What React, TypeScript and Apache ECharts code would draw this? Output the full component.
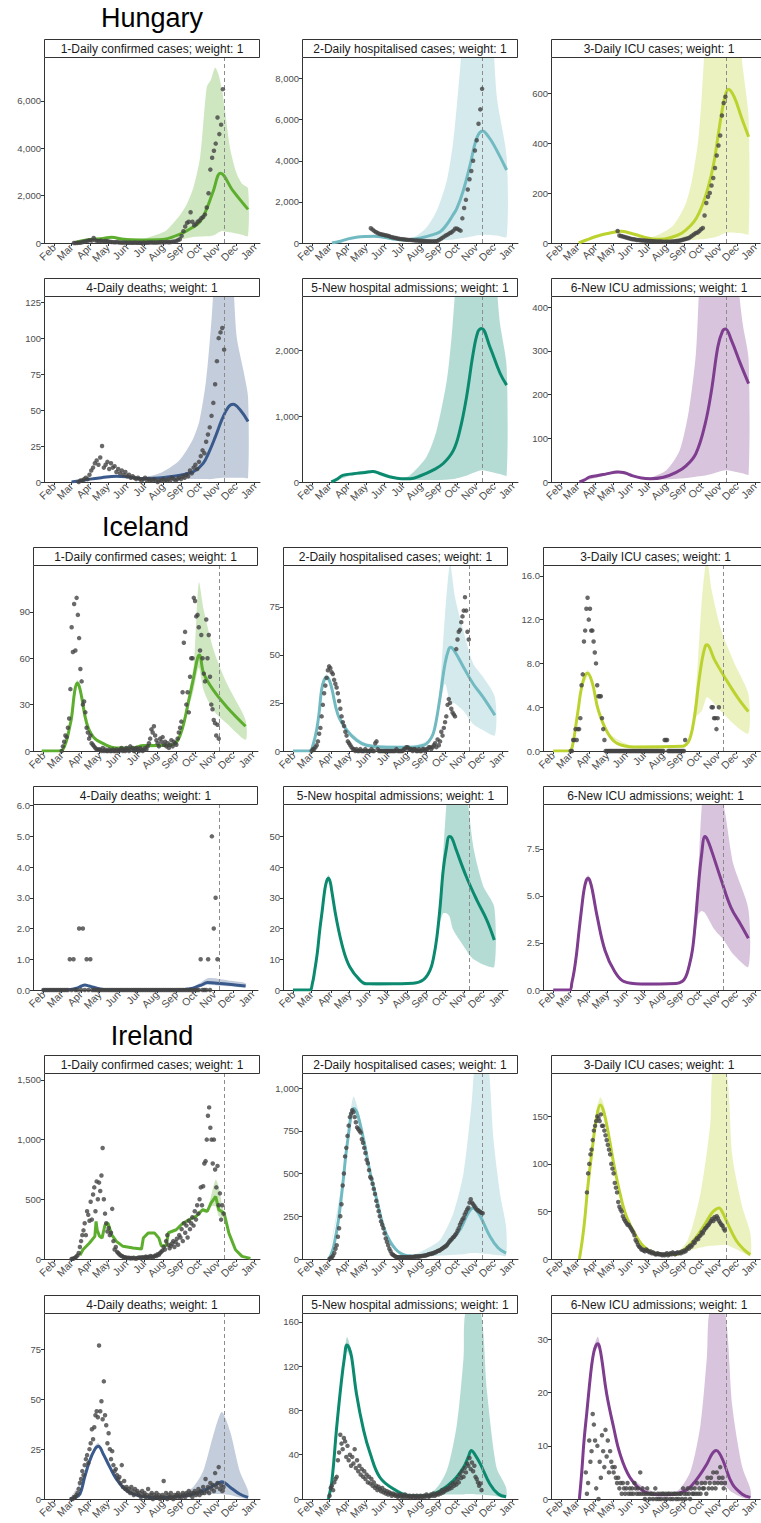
import React, { useEffect, useRef } from "react";
import * as echarts from "echarts";

// ---------- shared axis data ----------
const MONTH_TICKS = [31, 60, 91, 121, 152, 182, 213, 244, 274, 305, 335, 366];
const MONTH_LABELS = ["Feb", "Mar", "Apr", "May", "Jun", "Jul", "Aug", "Sep", "Oct", "Nov", "Dec", "Jan"];
const X_RANGE = [14, 375]; // day of year 2020 (0 = Jan 1)

const PANEL_TITLES = [
  "1-Daily confirmed cases; weight: 1",
  "2-Daily hospitalised cases; weight: 1",
  "3-Daily ICU cases; weight: 1",
  "4-Daily deaths; weight: 1",
  "5-New hospital admissions; weight: 1",
  "6-New ICU admissions; weight: 1",
];
const LINE_COLORS = ["#5DAE2E", "#72BAC2", "#BCD32F", "#3A5A8C", "#0B8A6F", "#7E3D8E"];
const BAND_COLORS = [
  "rgba(93,174,46,0.3)",
  "rgba(114,186,194,0.3)",
  "rgba(188,211,47,0.3)",
  "rgba(58,90,140,0.3)",
  "rgba(11,138,111,0.3)",
  "rgba(126,61,142,0.3)",
];

// ---------- Hungary ----------
const HU_CUTOFF = 316;
const HU_Y_MAX = [7816, 9000, 740, 128.6, 2807, 423];
const HU_Y_TICKS = [[0, 2000, 4000, 6000], [0, 2000, 4000, 6000, 8000], [0, 200, 400, 600], [0, 25, 50, 75, 100, 125], [0, 1000, 2000], [0, 100, 200, 300, 400]];

const HU_CASES_LINE = [[64, 0], [74, 80], [91, 150], [110, 180], [127, 240], [145, 160], [175, 130], [213, 150], [236, 320], [250, 480], [262, 650], [275, 900], [286, 1450], [297, 2200], [309, 2950], [330, 2200], [355, 1420]];
const HU_CASES_BAND = [[64, 0, 0], [91, 120, 180], [127, 200, 290], [175, 110, 160], [208, 100, 400], [219, 110, 535], [241, 150, 1170], [253, 200, 1660], [264, 250, 2365], [275, 270, 3630], [286, 280, 6590], [293, 300, 6900], [300, 350, 7400], [306, 450, 7100], [312, 520, 6400], [317, 480, 5500], [325, 450, 4000], [335, 400, 3000], [345, 350, 2500], [355, 300, 2300]];
const HU_CASES_OBS = { start: 64, step: 3, values: [0, 2, 5, 10, 20, 40, 60, 80, 100, 120, 100, 210, 110, 90, 80, 100, 60, 80, 90, 70, 50, 40, 35, 30, 40, 25, 20, 15, 20, 15, 10, 15, 10, 12, 15, 10, 8, 10, 12, 15, 12, 15, 20, 25, 20, 18, 22, 25, 30, 28, 30, 35, 40, 30, 45, 50, 60, 80, 120, 160, 300, 500, 700, 850, 900, 1300, 900, 750, 800, 900, 950, 1050, 1100, 1200, 1500, 2100, 3100, 3600, 3900, 4200, 5300, 4600, 5000, 6500] };

const HU_HOSP_LINE = [[64, 0], [80, 100], [91, 200], [105, 280], [121, 320], [135, 330], [150, 280], [166, 200], [184, 150], [200, 180], [213, 250], [230, 380], [245, 550], [256, 900], [265, 1300], [273, 1700], [283, 2500], [295, 3800], [306, 5100], [316, 5450], [325, 5200], [335, 4750], [356, 3550]];
const HU_HOSP_BAND = [[64, 0, 0], [91, 180, 220], [121, 290, 350], [166, 170, 230], [184, 120, 190], [205, 110, 340], [222, 110, 750], [239, 120, 1560], [256, 140, 3030], [267, 170, 4990], [278, 220, 8400], [285, 250, 11000], [300, 330, 16000], [316, 400, 16000], [333, 380, 10000], [340, 360, 7000], [356, 300, 4200]];
const HU_HOSP_OBS = { start: 129, step: 3, values: [720, 650, 580, 520, 480, 440, 420, 400, 380, 360, 340, 300, 280, 260, 240, 220, 200, 190, 180, 170, 160, 150, 150, 140, 130, 120, 120, 110, 110, 100, 100, 90, 90, 80, 80, 80, 90, 100, 150, 200, 260, 320, 380, 420, 480, 520, 600, 700, 700, 650, 600, 1200, 1700, 2100, 2600, 3100, 3500, 4000, 4500, 5000, 5800, 6500, 7500] };

const HU_ICU_LINE = [[62, 0], [75, 12], [90, 25], [105, 35], [120, 42], [135, 47], [150, 40], [165, 30], [180, 20], [195, 15], [210, 16], [225, 25], [240, 40], [255, 70], [265, 100], [275, 150], [285, 220], [295, 320], [303, 440], [310, 540], [316, 600], [320, 615], [330, 585], [343, 500], [355, 425]];
const HU_ICU_BAND = [[62, 0, 0], [90, 22, 28], [135, 42, 52], [165, 26, 34], [190, 12, 25], [224, 10, 68], [246, 10, 155], [257, 12, 249], [268, 14, 410], [274, 15, 584], [280, 16, 800], [300, 25, 1200], [316, 41, 1200], [335, 40, 900], [345, 38, 700], [355, 35, 500]];
const HU_ICU_OBS = { start: 129, step: 3, values: [48, 30, 28, 26, 24, 22, 20, 18, 16, 15, 14, 12, 12, 11, 10, 10, 9, 9, 8, 8, 7, 7, 6, 6, 6, 6, 5, 5, 5, 5, 5, 6, 6, 7, 8, 9, 10, 12, 14, 16, 18, 20, 25, 30, 35, 40, 42, 48, 55, 60, 110, 160, 185, 200, 230, 260, 300, 350, 390, 430, 510, 560, 585] };

const HU_DEATHS_LINE = [[60, 0], [75, 0.8], [91, 2], [110, 3], [135, 4], [155, 3.5], [175, 2.5], [205, 2.8], [230, 4], [250, 5.5], [265, 7.5], [280, 13], [290, 21], [300, 31], [312, 44], [322, 52], [330, 54], [342, 50], [355, 42]];
const HU_DEATHS_BAND = [[60, 0, 0], [91, 1.5, 2.5], [135, 3.3, 4.7], [175, 2, 3], [207, 2, 6], [240, 2, 15], [262, 2, 29], [274, 2, 43], [285, 2, 71], [294, 2, 113], [300, 2.5, 150], [316, 3, 200], [330, 3, 140], [336, 3, 101], [347, 3, 78], [355, 3, 59]];
const HU_DEATHS_OBS = { start: 72, step: 3, values: [0, 1, 1, 2, 3, 2, 5, 8, 10, 13, 15, 12, 17, 25, 10, 12, 14, 9, 13, 10, 11, 7, 9, 6, 8, 5, 7, 4, 5, 3, 4, 3, 2, 3, 2, 1, 2, 3, 1, 2, 1, 1, 2, 1, 0, 1, 1, 2, 1, 1, 2, 1, 3, 2, 1, 2, 3, 2, 4, 3, 5, 4, 8, 6, 10, 12, 9, 14, 18, 22, 20, 28, 33, 38, 46, 55, 68, 84, 100, 104, 107, 92] };

const HU_ADM_LINE = [[63, 0], [72, 40], [82, 100], [100, 125], [120, 145], [132, 160], [145, 125], [160, 80], [180, 50], [195, 50], [212, 95], [233, 180], [250, 280], [267, 480], [278, 790], [289, 1290], [300, 1950], [308, 2280], [314, 2330], [328, 2050], [345, 1650], [356, 1470]];
const HU_ADM_BAND = [[63, 0, 0], [100, 110, 140], [132, 145, 175], [180, 40, 60], [194, 35, 100], [222, 30, 380], [239, 30, 785], [256, 35, 1544], [264, 40, 2200], [270, 50, 2900], [290, 100, 5000], [314, 177, 5000], [330, 150, 4000], [340, 130, 2900], [345, 120, 2400], [356, 100, 1750]];

const HU_ICUADM_LINE = [[63, 0], [72, 5], [80, 11], [95, 15], [108, 18], [130, 23], [141, 21], [155, 14], [170, 9], [185, 7.6], [208, 11], [230, 22], [247, 37], [264, 65], [280, 133], [291, 210], [302, 310], [310, 345], [315, 350], [325, 325], [341, 270], [355, 225]];
const HU_ICUADM_BAND = [[63, 0, 0], [108, 15, 20], [130, 20, 26], [170, 7, 11], [185, 6, 10], [213, 6, 27], [236, 8, 72], [252, 10, 164], [264, 12, 293], [270, 13, 450], [290, 18, 800], [315, 27, 800], [338, 22, 440], [345, 20, 360], [355, 17, 280]];

// ---------- Iceland ----------
const IS_CUTOFF = 313;
const IS_Y_MAX = [119.6, 96.2, 16.9, 6.02, 60.3, 9.84];
const IS_Y_TICKS = [[0, 30, 60, 90], [0, 25, 50, 75], [0, 4, 8, 12, 16], [0, 1, 2, 3, 4, 5, 6], [0, 10, 20, 30, 40, 50], [0, 2.5, 5, 7.5]];

const IS_CASES_LINE = [[28, 0], [57, 0], [62, 1], [68, 7], [72, 14], [76, 22], [81, 39], [85, 44], [88, 42], [92, 35], [100, 18], [111, 9], [127, 4.7], [148, 2], [175, 2], [191, 3.5], [229, 3.5], [240, 4.5], [245, 6], [250, 10], [256, 18], [264, 33], [272, 48], [278, 60], [281, 62], [288, 50], [304, 39], [325, 28.5], [355, 16]];
const IS_CASES_BAND = [[28, 0, 0], [57, 0, 0], [68, 6, 8], [76, 20, 24], [85, 42, 46], [92, 33, 37], [111, 8, 10], [148, 1.5, 2.5], [229, 3, 4], [245, 5, 7], [256, 16, 20], [264, 28, 38], [272, 40, 56], [280, 54, 109], [288, 39, 91], [304, 26, 65], [325, 17.7, 43.6], [355, 7.3, 20]];
const IS_CASES_OBS = { start: 60, step: 2, values: [0, 3, 6, 10, 9, 15, 21, 40, 80, 64, 95, 65, 99, 88, 73, 53, 45, 30, 32, 25, 15, 12, 8, 10, 5, 4, 3, 2, 1, 1, 1, 1, 0, 2, 0, 1, 0, 0, 1, 0, 0, 1, 0, 0, 1, 0, 0, 1, 2, 0, 1, 0, 2, 1, 0, 3, 1, 2, 0, 1, 2, 1, 0, 2, 1, 0, 1, 2, 1, 3, 5, 8, 14, 12, 16, 10, 7, 5, 3, 8, 6, 9, 4, 6, 3, 5, 2, 4, 7, 3, 6, 5, 4, 8, 12, 15, 19, 38, 70, 77, 30, 38, 25, 48, 60, 60, 99, 97, 87, 88, 80, 65, 75, 60, 50, 45, 85, 60, 75, 48, 30, 27, 20, 18, 10, 17, 8] };

const IS_HOSP_LINE = [[30, 0], [57, 0], [62, 3], [68, 11], [72, 20], [76, 32], [80, 37], [84, 38.5], [88, 37], [92, 33], [102, 19], [116, 11], [132, 5.6], [148, 3], [180, 2], [223, 2], [240, 3], [248, 5], [255, 9], [260, 16], [266, 28], [274, 45.5], [280, 53], [283, 54], [290, 51.5], [303, 44], [319, 35], [335, 28], [354, 18.6]];
const IS_HOSP_BAND = [[30, 0, 0], [57, 0, 0], [68, 10, 12], [76, 30, 34], [84, 37, 40], [92, 31, 35], [102, 18, 20], [116, 10, 12], [148, 2, 4], [223, 1, 3], [248, 4, 6], [260, 14, 18], [266, 24, 34], [274, 35, 71], [282, 26, 97], [290, 24.7, 80], [303, 21, 63], [319, 14, 45.5], [335, 10.8, 38.5], [354, 8.2, 28]];
const IS_HOSP_OBS = { start: 60, step: 2, values: [0, 1, 1, 2, 3, 5, 9, 12, 18, 24, 30, 34, 38, 42, 44, 43, 41, 40, 37, 35, 33, 30, 26, 22, 18, 15, 13, 10, 8, 5, 4, 3, 2, 1, 1, 0, 1, 0, 0, 1, 0, 0, 0, 1, 0, 0, 0, 0, 1, 0, 0, 4, 5, 1, 0, 0, 0, 0, 0, 0, 0, 0, 0, 0, 0, 0, 0, 0, 1, 0, 0, 0, 0, 0, 1, 1, 2, 2, 1, 1, 1, 0, 1, 1, 0, 0, 1, 0, 0, 1, 1, 0, 1, 1, 2, 2, 1, 2, 3, 4, 2, 6, 3, 5, 10, 8, 12, 15, 18, 24, 27, 25, 22, 20, 19, 18, 53, 58, 62, 63, 67, 70, 73, 80, 73, 62, 58] };

const IS_ICU_LINE = [[31, 0], [58, 0], [63, 0.5], [69, 2.5], [73, 4], [77, 5.5], [83, 6.8], [88, 7.1], [96, 6.2], [106, 3.7], [122, 1.6], [138, 0.67], [165, 0.37], [246, 0.43], [252, 0.6], [257, 1], [262, 2], [267, 3.7], [272, 6], [278, 8.3], [283, 9.5], [286, 9.7], [299, 8.3], [315, 6.8], [337, 4.9], [355, 3.6]];
const IS_ICU_BAND = [[31, 0, 0], [58, 0, 0], [69, 2.2, 2.8], [77, 5.2, 5.8], [88, 6.8, 7.4], [96, 5.9, 6.5], [106, 3.5, 3.9], [122, 1.5, 1.7], [165, 0.3, 0.45], [246, 0.35, 0.5], [257, 0.8, 1.2], [267, 3, 4.9], [278, 3.7, 14], [286, 4.9, 17.5], [294, 4.6, 14.7], [310, 3.6, 11], [332, 2.4, 8], [355, 1.6, 5.2]];
const IS_ICU_OBS = { start: 60, step: 2, values: [0, 0, 1, 1, 2, 1, 2, 2, 3, 6, 7, 10, 11, 13, 14, 12, 13, 11, 11, 10, 9, 8, 6, 5, 5, 5, 3, 2, 1, 0, 0, 0, 0, 0, 0, 0, 0, 0, 0, 0, 0, 0, 0, 0, 0, 0, 0, 0, 0, 0, 0, 0, 0, 0, 0, 0, 0, 0, 0, 0, 0, 0, 0, 0, 0, 0, 0, 0, 0, 0, 0, 0, 0, 0, 0, 0, 0, 0, 1, 1, 1, 0, 0, 0, 0, 0, 0, 0, 0, 0, 0, 0, 0, 0, 0, 1, null, null, null, null, null, null, null, null, null, null, null, null, null, null, null, null, null, null, null, null, null, 4, 4, 3, 3, 2, 3, 4] };

const IS_DEATHS_LINE = [[28, 0], [68, 0], [76, 0.02], [84, 0.06], [92, 0.13], [97, 0.16], [104, 0.13], [111, 0.09], [127, 0.02], [140, 0], [246, 0], [258, 0.02], [268, 0.05], [276, 0.1], [284, 0.16], [294, 0.24], [310, 0.22], [332, 0.18], [355, 0.13]];
const IS_DEATHS_BAND = [[28, 0, 0], [68, 0, 0], [84, 0.04, 0.08], [97, 0.13, 0.19], [111, 0.07, 0.11], [127, 0.01, 0.03], [140, 0, 0], [246, 0, 0], [268, 0.03, 0.08], [284, 0.12, 0.25], [294, 0.17, 0.38], [310, 0.15, 0.37], [332, 0.12, 0.3], [355, 0.08, 0.22]];
const IS_DEATHS_OBS = { start: 31, step: 3, values: [0, 0, 0, 0, 0, 0, 0, 0, 0, 0, 0, 0, 0, 0, 1, 0, 1, 0, 0, 2, 0, 2, 0, 1, 0, 1, 0, 0, 0, 0, 0, 0, 0, 0, 0, 0, 0, 0, 0, 0, 0, 0, 0, 0, 0, 0, 0, 0, 0, 0, 0, 0, 0, 0, 0, 0, 0, 0, 0, 0, 0, 0, 0, 0, 0, 0, 0, 0, 0, 0, 0, 0, 0, 0, 0, 0, 0, 0, 0, 0, 0, 0, 0, 0, 1, 0, 0, 0, 1, 0, 5, 2, 3, 1] };

const IS_ADM_LINE = [[30, 0], [57, 0], [61, 2], [65, 6.5], [69, 12], [73, 19.6], [77, 26], [81, 32.6], [84, 35.5], [87, 36.4], [90, 35], [92, 32.6], [100, 22.8], [111, 13], [121, 7.6], [137, 3.3], [148, 2], [180, 2], [223, 2.2], [239, 3.3], [250, 6.5], [256, 11], [261, 17.4], [266, 27], [271, 39], [276, 46], [281, 50], [285, 49.5], [292, 45.6], [308, 37], [325, 29.3], [341, 22.8], [353, 16.3]];
const IS_ADM_BAND = [[30, 0, 0], [57, 0, 0], [65, 6, 7], [73, 19, 20.5], [81, 32, 34], [87, 35.5, 37.5], [92, 32, 33.5], [100, 22.3, 23.3], [121, 7.3, 8], [148, 1.8, 2.2], [223, 2, 2.5], [239, 3, 3.8], [250, 5.8, 7.2], [261, 15.5, 19], [266, 22, 30], [271, 25, 44.6], [276, 25, 60], [281, 24, 70], [287, 19.6, 75], [308, 13, 70], [311, 12, 61], [320, 10, 46], [335, 8.3, 34], [353, 7.6, 27]];

const IS_ICUADM_LINE = [[31, 0], [58, 0], [62, 0.4], [66, 1.06], [70, 2], [74, 3.2], [78, 4.3], [82, 5.3], [86, 5.85], [89, 5.94], [92, 5.8], [96, 5.3], [104, 3.9], [117, 2.1], [133, 0.98], [149, 0.44], [176, 0.32], [235, 0.35], [245, 0.45], [251, 0.7], [256, 1.2], [262, 2.1], [267, 3.6], [272, 5.5], [277, 7.1], [283, 8.16], [287, 8], [294, 7.4], [310, 5.85], [326, 4.4], [342, 3.5], [355, 2.75]];
const IS_ICUADM_BAND = [[31, 0, 0], [58, 0, 0], [66, 1, 1.1], [74, 3.1, 3.3], [82, 5.2, 5.5], [89, 5.8, 6.1], [96, 5.2, 5.4], [104, 3.8, 4], [117, 2, 2.2], [149, 0.4, 0.5], [235, 0.3, 0.4], [251, 0.6, 0.8], [262, 1.9, 2.5], [272, 4, 6.5], [277, 4.2, 9.5], [283, 4.1, 11], [299, 3.2, 11], [314, 2.66, 9.8], [330, 1.9, 6.7], [355, 1.24, 4.3]];

// ---------- Ireland ----------
const IE_CUTOFF = 316;
const IE_Y_MAX = [1550, 1082, 194.5, 92.8, 167, 34.8];
const IE_Y_TICKS = [[0, 500, 1000, 1500], [0, 250, 500, 750, 1000], [0, 50, 100, 150], [0, 25, 50, 75], [0, 40, 80, 120, 160], [0, 10, 20, 30]];

const IE_CASES_LINE = [[74, 30], [79, 78], [90, 134], [99, 190], [101, 315], [103, 240], [107, 190], [111, 175], [116, 287], [121, 300], [127, 205], [135, 148], [146, 106], [163, 92], [177, 84], [180, 176], [188, 217], [199, 217], [206, 175], [210, 110], [218, 110], [222, 220], [235, 245], [246, 300], [257, 330], [268, 357], [279, 413], [287, 400], [293, 468], [301, 524], [306, 413], [315, 385], [323, 217], [334, 78], [345, 22], [359, 5]];
const IE_CASES_BAND = [[279, 400, 430], [287, 385, 415], [293, 440, 524], [301, 440, 664], [306, 360, 608], [312, 350, 440], [315, 360, 400], [323, 210, 225]];
const IE_CASES_OBS = { start: 60, step: 2, values: [0, 2, 5, 10, 20, 30, 50, 100, 150, 200, 240, 300, 200, 400, 370, 320, 480, 330, 540, 600, 400, 650, 500, 640, 570, 700, 930, 500, 380, 300, 230, 260, 200, 220, 420, 150, 80, 100, 60, 50, 40, 30, 25, 20, 15, 12, 10, 8, 10, 5, 8, 6, 10, 5, 3, 8, 10, 12, 8, 15, 10, 12, 20, 15, 18, 10, 25, 20, 15, 22, 30, 25, 40, 35, 50, 60, 70, 100, 80, 150, 200, 120, 90, 110, 130, 150, 100, 140, 170, 120, 200, 180, 250, 150, 300, 220, 280, 180, 320, 250, 300, 350, 280, 400, 330, 450, 380, 500, 600, 450, 610, 800, 820, 1000, 1200, 1270, 1100, 1000, 800, 1000, 750, 600, 780, 450, 550, 330, 450, 380] };

const IE_HOSP_LINE = [[58, 0], [62, 20], [67, 74], [75, 230], [83, 464], [87, 600], [92, 737], [96, 840], [100, 880], [104, 870], [108, 834], [117, 698], [128, 503], [139, 347], [150, 191], [161, 103], [178, 35], [200, 16], [222, 25], [245, 55], [262, 103], [278, 171], [289, 250], [296, 290], [300, 298], [305, 285], [312, 250], [328, 133], [342, 64], [355, 35]];
const IE_HOSP_BAND = [[58, 0, 0], [83, 440, 490], [92, 700, 780], [100, 850, 950], [108, 800, 870], [128, 480, 530], [150, 175, 205], [178, 30, 40], [200, 12, 25], [222, 15, 60], [245, 20, 113], [267, 25, 269], [284, 28, 503], [297, 35, 893], [306, 35, 1200], [323, 30, 1200], [334, 25, 700], [345, 22, 380], [355, 19, 191]];
const IE_HOSP_OBS = { start: 60, step: 2, values: [0, 5, 10, 20, 35, 60, 80, 130, 180, 250, 320, 430, 500, 600, 650, 720, 780, 830, 850, 870, 860, 830, 800, 770, 760, 750, 740, 700, 680, 650, 620, 580, 560, 520, 480, 470, 440, 410, 380, 340, 310, 280, 250, 220, 200, 180, 150, 120, 100, 80, 60, 45, 30, 25, 20, 15, 12, 10, 10, 10, 10, 10, 10, 10, 10, 10, 10, 12, 12, 12, 12, 14, 14, 15, 15, 15, 16, 18, 18, 20, 20, 22, 25, 28, 30, 30, 32, 35, 38, 40, 45, 48, 50, 55, 60, 65, 70, 75, 80, 90, 100, 110, 115, 125, 130, 140, 150, 165, 180, 200, 215, 230, 240, 260, 275, 290, 300, 330, 350, 330, 320, 310, 300, 290, 285, 280, 275, 270, 268] };

const IE_ICU_LINE = [[63, 0], [68, 20], [72, 40], [77, 73], [85, 115], [93, 150], [99, 162], [105, 155], [113, 132], [122, 101], [133, 69], [144, 45], [161, 24], [177, 11.6], [200, 4.6], [227, 4.6], [244, 9.8], [261, 20], [277, 34], [291, 48], [298, 52], [304, 53.6], [310, 49], [316, 41], [333, 20], [347, 9.8], [358, 4.6]];
const IE_ICU_BAND = [[63, 0, 0], [77, 70, 78], [93, 145, 158], [99, 155, 170], [105, 148, 163], [122, 96, 106], [144, 42, 48], [177, 10, 13], [227, 3, 6], [250, 8, 20], [272, 12, 69], [289, 14, 143], [294, 14, 200], [316, 15, 200], [327, 12, 108], [344, 7, 55], [358, 3, 27]];
const IE_ICU_OBS = { start: 76, step: 2, values: [70, 90, 100, 110, 115, 125, 135, 140, 145, 150, 148, 145, 152, 140, 140, 135, 130, 125, 120, 115, 110, 100, 95, 90, 80, 75, 70, 60, 55, 52, 50, 45, 42, 40, 38, 36, 36, 34, 32, 30, 28, 25, 20, 18, 15, 13, 12, 10, 10, 9, 8, 10, 9, 8, 7, 8, 6, 7, 6, 5, 5, 6, 5, 5, 5, 4, 5, 4, 5, 6, 4, 5, 6, 5, 7, 6, 5, 6, 7, 6, 7, 6, 8, 7, 9, 8, 10, 12, 11, 14, 13, 15, 18, 17, 20, 22, 21, 24, 25, 28, 27, 30, 32, 33, 35, 36, 38, 40, 42, 40, 44, 42, 45, 43, 40, 38, 36, 35, 32, 30] };

const IE_DEATHS_LINE = [[57, 0], [65, 0.5], [74, 2.5], [82, 11], [90, 19], [99, 25], [105, 26.5], [113, 22.6], [124, 16], [135, 10], [149, 5], [163, 2.5], [191, 0.8], [219, 0.8], [241, 1.2], [263, 2.5], [286, 5], [302, 7.5], [311, 8.7], [325, 5.9], [341, 2.5], [355, 0.8]];
const IE_DEATHS_BAND = [[57, 0, 0], [82, 10, 12], [99, 24, 26.5], [105, 25.5, 28], [113, 21.5, 23.5], [135, 9.3, 10.7], [163, 2, 3], [219, 0.5, 1.2], [241, 0.8, 2], [263, 1, 5.9], [280, 2, 14], [296, 2.5, 31], [311, 2.5, 43.6], [325, 2, 34], [341, 0.8, 14], [355, 0.2, 4.2]];
const IE_DEATHS_OBS = { start: 60, step: 2, values: [0, 0, 1, 1, 2, 3, 5, 8, 10, 14, 12, 17, 20, 22, 18, 25, 28, 35, 30, 36, 42, 44, 41, 77, 44, 49, 40, 59, 42, 37, 28, 33, 25, 20, 24, 17, 14, 15, 12, 10, 11, 8, 17, 6, 9, 5, 6, 4, 5, 3, 6, 4, 2, 5, 3, 4, 2, 3, 1, 4, 2, 3, 1, 2, 5, 1, 2, 3, 0, 2, 1, 3, 1, 2, 0, 1, 2, 9, 1, 3, 0, 2, 1, 3, 1, 0, 2, 1, 2, 3, 1, 2, 1, 3, 2, 1, 3, 2, 4, 2, 3, 1, 3, 4, 2, 3, 5, 2, 4, 3, 6, 3, 10, 4, 6, 3, 8, 5, 7, 4, 13, 6, 8, 16, 5, 7, 4, 6] };

const IE_ADM_LINE = [[58, 0], [64, 16.6], [72, 65], [80, 107], [85, 128], [89, 139], [93, 136], [97, 128], [105, 95], [117, 62], [128, 41], [144, 19.6], [167, 9], [195, 3], [223, 3], [245, 7.5], [267, 16.6], [284, 28.7], [292, 38], [297, 43.8], [302, 41], [312, 31.7], [328, 13.6], [342, 4.5], [355, 2]];
const IE_ADM_BAND = [[58, 0, 0], [80, 104, 110], [89, 133, 146], [97, 124, 132], [117, 60, 64], [144, 18.5, 21], [195, 2.5, 3.5], [234, 3, 7.5], [256, 4, 25.7], [273, 4, 68], [284, 4, 128], [288, 4.5, 170], [312, 4, 170], [323, 3.5, 98], [339, 2.5, 28.7], [355, 1, 10.6]];
const IE_ADM_OBS = { start: 60, step: 2, values: [3, 10, 12, 8, 15, 18, 20, 35, 42, 58, 50, 45, 55, 52, 38, 48, 35, 40, 30, 38, 32, 45, 28, 35, 25, 30, 22, 27, 20, 25, 18, 22, 15, 20, 14, 18, 12, 15, 10, 12, 8, 11, 9, 7, 10, 6, 8, 5, 7, 4, 6, 5, 3, 5, 4, 3, 4, 2, 3, 4, 2, 3, 2, 4, 2, 3, 2, 3, 1, 2, 3, 2, 2, 3, 1, 2, 3, 2, 2, 3, 2, 4, 3, 2, 3, 4, 3, 5, 3, 4, 5, 4, 6, 5, 8, 6, 7, 9, 8, 10, 9, 12, 10, 14, 12, 15, 13, 18, 15, 22, 19, 25, 20, 28, 24, 32, 30, 37, 27, 33, 25, 30, 20, 18, 15, 12, 14, 8] };

const IE_ICUADM_LINE = [[63, 0], [67, 5], [71, 11], [76, 16.5], [80, 21], [84, 25], [88, 27.7], [92, 29], [95, 29.2], [98, 28.5], [102, 26], [110, 19.8], [122, 13.5], [133, 8.5], [150, 4.1], [172, 1.6], [200, 0.8], [227, 0.9], [250, 1.9], [266, 3.8], [283, 6.6], [292, 8.5], [299, 9.1], [304, 8.7], [311, 7.2], [327, 2.8], [344, 0.9], [358, 0.3]];
const IE_ICUADM_BAND = [[63, 0, 0], [80, 20.5, 21.5], [88, 27.2, 28.5], [95, 28.5, 30.5], [102, 25.5, 26.7], [122, 13, 14], [150, 3.8, 4.4], [200, 0.7, 0.9], [233, 0.8, 1.6], [255, 1.5, 5.3], [272, 2.5, 14], [283, 3, 26.7], [289, 3.2, 36], [313, 2.5, 36], [327, 1.2, 17.3], [344, 0.3, 6], [358, 0.1, 1.9]];
const IE_ICUADM_OBS = { start: 74, step: 2, values: [5, 1, 3, 11, 7, 9, 16, 14, 11, 2, 10, 0, 7, 4, 12, 9, 6, 13, 8, 11, 5, 9, 7, 6, 5, 6, 4, 3, 4, 2, 3, 1, 3, 2, 1, 2, 3, 1, 2, 1, 2, 1, 3, 2, 1, 2, 1, 5, 1, 2, 1, 0, 1, 2, 1, 0, 1, 1, 0, 1, 2, 0, 1, 0, 1, 0, 1, 1, 0, 1, 0, 1, 1, 0, 1, 0, 1, 1, 0, 1, 0, 1, 1, 0, 2, 1, 0, 1, 2, 1, 0, 2, 1, 1, 2, 1, 3, 1, 2, 1, 3, 2, 2, 3, 1, 4, 2, 3, 4, 2, 5, 3, 2, 5, 3, 4, 6, 3, 4, 2, 3] };

// ---------- layout (pixels) ----------
const LAYOUTS = {
  wide: { lefts: [44, 302, 551], width: 216 },
  narrow: { lefts: [33, 283, 543], width: 225 },
};
const ROW_TOPS = [[58, 297], [566, 805], [1074, 1314]];
const PLOT_H = 185;
const STRIP_H = 19;
const TITLE_Y = [18, 527, 1036];
const FONT = "'Liberation Sans', Arial, Helvetica, sans-serif";

const COUNTRIES = [
  {
    name: "Hungary", layout: "wide", cutoff: HU_CUTOFF, yMax: HU_Y_MAX, ticks: HU_Y_TICKS, dec: [0, 0, 0, 0, 0, 0], smooth: [0.4, 0.4, 0.4, 0.4, 0.4, 0.4],
    lines: [HU_CASES_LINE, HU_HOSP_LINE, HU_ICU_LINE, HU_DEATHS_LINE, HU_ADM_LINE, HU_ICUADM_LINE],
    bands: [HU_CASES_BAND, HU_HOSP_BAND, HU_ICU_BAND, HU_DEATHS_BAND, HU_ADM_BAND, HU_ICUADM_BAND],
    obs: [HU_CASES_OBS, HU_HOSP_OBS, HU_ICU_OBS, HU_DEATHS_OBS, null, null],
  },
  {
    name: "Iceland", layout: "narrow", cutoff: IS_CUTOFF, yMax: IS_Y_MAX, ticks: IS_Y_TICKS, dec: [0, 0, 1, 1, 0, 1], smooth: [0.4, 0.4, 0.4, 0.4, 0.4, 0.4],
    lines: [IS_CASES_LINE, IS_HOSP_LINE, IS_ICU_LINE, IS_DEATHS_LINE, IS_ADM_LINE, IS_ICUADM_LINE],
    bands: [IS_CASES_BAND, IS_HOSP_BAND, IS_ICU_BAND, IS_DEATHS_BAND, IS_ADM_BAND, IS_ICUADM_BAND],
    obs: [IS_CASES_OBS, IS_HOSP_OBS, IS_ICU_OBS, IS_DEATHS_OBS, null, null],
  },
  {
    name: "Ireland", layout: "wide", cutoff: IE_CUTOFF, yMax: IE_Y_MAX, ticks: IE_Y_TICKS, dec: [0, 0, 0, 0, 0, 0], smooth: [0, 0.4, 0.4, 0.4, 0.4, 0.4],
    lines: [IE_CASES_LINE, IE_HOSP_LINE, IE_ICU_LINE, IE_DEATHS_LINE, IE_ADM_LINE, IE_ICUADM_LINE],
    bands: [IE_CASES_BAND, IE_HOSP_BAND, IE_ICU_BAND, IE_DEATHS_BAND, IE_ADM_BAND, IE_ICUADM_BAND],
    obs: [IE_CASES_OBS, IE_HOSP_OBS, IE_ICU_OBS, IE_DEATHS_OBS, IE_ADM_OBS, IE_ICUADM_OBS],
  },
];

function fmt(v: number, dec: number) {
  if (dec > 0) return v.toFixed(dec);
  return String(Math.round(v)).replace(/\B(?=(\d{3})+(?!\d))/g, ",");
}

function obsPoints(o: any) {
  const pts: number[][] = [];
  o.values.forEach((v: number | null, i: number) => {
    if (v !== null && v !== undefined) pts.push([o.start + i * o.step, v]);
  });
  return pts;
}

function buildOption() {
  const grids: any[] = [];
  const xAxes: any[] = [];
  const yAxes: any[] = [];
  const series: any[] = [];
  const graphics: any[] = [];

  COUNTRIES.forEach((c: any, ci: number) => {
    const lay = (LAYOUTS as any)[c.layout];
    graphics.push({
      type: "text",
      x: lay.lefts[0] + lay.width / 2,
      y: TITLE_Y[ci],
      z: 20,
      style: { text: c.name, fontSize: 27, fontFamily: FONT, fill: "#000", align: "center", verticalAlign: "middle" },
    });
    for (let pi = 0; pi < 6; pi++) {
      const row = Math.floor(pi / 3);
      const col = pi % 3;
      const left = lay.lefts[col];
      const top = ROW_TOPS[ci][row];
      const gi = grids.length;
      grids.push({ left, top, width: lay.width, height: PLOT_H, containLabel: false });
      xAxes.push({
        type: "value",
        gridIndex: gi,
        min: X_RANGE[0],
        max: X_RANGE[1],
        axisLine: { show: true, onZero: false, lineStyle: { color: "#333", width: 1 } },
        axisTick: { show: true, length: 3, customValues: MONTH_TICKS, lineStyle: { color: "#333" } },
        axisLabel: {
          customValues: MONTH_TICKS,
          formatter: (v: number) => MONTH_LABELS[MONTH_TICKS.indexOf(v)] || "",
          rotate: 45,
          fontSize: 10.5,
          color: "#4d4d4d",
          margin: 3,
          fontFamily: FONT,
        },
        splitLine: { show: false },
      });
      const dec = c.dec[pi];
      yAxes.push({
        type: "value",
        gridIndex: gi,
        min: 0,
        max: c.yMax[pi],
        axisLine: { show: true, onZero: false, lineStyle: { color: "#333", width: 1 } },
        axisTick: { show: true, length: 3, customValues: c.ticks[pi], lineStyle: { color: "#333" } },
        axisLabel: {
          customValues: c.ticks[pi],
          formatter: (v: number) => fmt(v, dec),
          fontSize: 9.5,
          color: "#4d4d4d",
          margin: 3,
          fontFamily: FONT,
        },
        splitLine: { show: false },
      });

      // strip header
      graphics.push({
        type: "rect",
        z: 20,
        shape: { x: left + 0.5, y: top - STRIP_H + 0.5, width: lay.width - 1, height: STRIP_H - 1 },
        style: { fill: "#fff", stroke: "#333", lineWidth: 1 },
      });
      graphics.push({
        type: "text",
        z: 21,
        x: left + lay.width / 2,
        y: top - STRIP_H / 2 + 0.5,
        style: { text: PANEL_TITLES[pi], fontSize: 12, fontFamily: FONT, fill: "#1a1a1a", align: "center", verticalAlign: "middle" },
      });

      const band = c.bands[pi];
      const bandColor = BAND_COLORS[pi];
      series.push({
        type: "custom",
        xAxisIndex: gi,
        yAxisIndex: gi,
        clip: true,
        silent: true,
        z: 1,
        data: band,
        encode: { x: 0, y: [1, 2] },
        renderItem: (params: any, api: any) => {
          if (params.dataIndex !== 0) return null;
          const upper = band.map((d: number[]) => api.coord([d[0], d[2]]));
          const lower = band.map((d: number[]) => api.coord([d[0], d[1]])).reverse();
          return {
            type: "polygon",
            shape: { points: upper.concat(lower), smooth: 0.25 },
            style: { fill: bandColor },
          };
        },
      });
      series.push({
        type: "line",
        xAxisIndex: gi,
        yAxisIndex: gi,
        data: c.lines[pi],
        smooth: c.smooth[pi],
        showSymbol: false,
        symbol: "none",
        silent: true,
        z: 3,
        lineStyle: { color: LINE_COLORS[pi], width: 3 },
        markLine: {
          silent: true,
          symbol: "none",
          label: { show: false },
          lineStyle: { color: "#8c8c8c", type: [4, 3], width: 1 },
          data: [{ xAxis: c.cutoff }],
        },
      });
      if (c.obs[pi]) {
        series.push({
          type: "scatter",
          xAxisIndex: gi,
          yAxisIndex: gi,
          data: obsPoints(c.obs[pi]),
          symbolSize: 4.5,
          silent: true,
          z: 5,
          itemStyle: { color: "#444" },
        });
      }
    }
  });

  return {
    animation: false,
    backgroundColor: "#fff",
    textStyle: { fontFamily: FONT },
    grid: grids,
    xAxis: xAxes,
    yAxis: yAxes,
    series,
    graphic: { elements: graphics },
  };
}

export default function App() {
  const ref = useRef<HTMLDivElement>(null);
  useEffect(() => {
    if (!ref.current) return;
    const chart = echarts.init(ref.current, null, { renderer: "svg" });
    chart.setOption(buildOption() as any);
    return () => chart.dispose();
  }, []);
  return (
    <div
      ref={ref}
      style={{ position: "absolute", left: 0, top: 0, width: 761, height: 1523, background: "#fff" }}
    />
  );
}
